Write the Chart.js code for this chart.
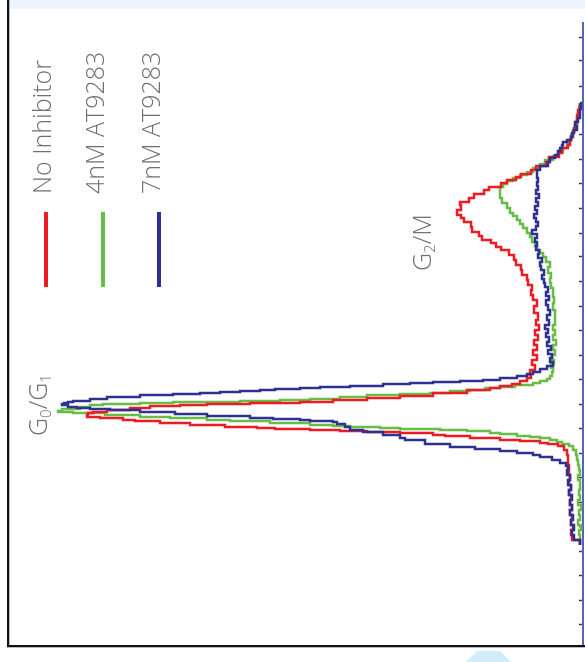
<!DOCTYPE html>
<html>
<head>
<meta charset="utf-8">
<script src="https://cdn.jsdelivr.net/npm/chart.js@4/dist/chart.umd.min.js"></script>
<style>
  html,body{margin:0;padding:0;background:#fff;}
  body{width:585px;height:662px;position:relative;overflow:hidden;font-family:"Open Sans",sans-serif;}
  #band{position:absolute;left:9px;top:0;width:576px;height:9px;background:#eef4fc;}
  #frameL{position:absolute;left:7px;top:0;width:2px;height:647px;background:#111;box-shadow:1px 0 0 #bbb;}
  #frameB{position:absolute;left:7px;top:645px;width:578px;height:2px;background:#111;box-shadow:0 1px 0 #bbb;}
  #deco{position:absolute;left:466px;top:651px;width:45px;height:11px;background:#d3ecfa;clip-path:polygon(25% 0,75% 0,100% 100%,0 100%);}
  #wrap{position:absolute;left:0;top:22px;width:585px;height:623px;}
  .rt{position:absolute;transform-origin:left top;transform:rotate(-90deg);white-space:nowrap;
      font-family:"Open Sans",sans-serif;font-weight:300;font-size:25px;line-height:25px;color:#707070;}
  .rt sub{font-size:15px;vertical-align:-4px;line-height:0;}
  .mk{position:absolute;width:4px;height:75px;top:212px;}
</style>
</head>
<body>
<div id="band"></div>
<div id="wrap"><canvas id="c" width="585" height="623"></canvas></div>
<div id="frameL"></div>
<div id="frameB"></div>
<div id="deco"></div>

<div class="rt" style="left:29px;top:194px;">No Inhibitor</div>
<div class="rt" style="left:82px;top:194px;">4nM AT9283</div>
<div class="rt" style="left:138px;top:194px;">7nM AT9283</div>
<div class="mk" style="left:44px;background:#ed1c24;"></div>
<div class="mk" style="left:101px;background:#67bd45;"></div>
<div class="mk" style="left:157px;background:#2e3192;"></div>

<div class="rt" style="left:25px;top:436px;">G<sub>0</sub>/G<sub>1</sub></div>
<div class="rt" style="left:409px;top:271px;">G<sub>2</sub>/M</div>

<script>
// DNA content (channel units) and cell counts
const seriesNames = ["No Inhibitor", "4nM AT9283", "7nM AT9283"];

const redDNA = [100,105,110,115,120,125,130,135,140,145,150,155,160,165,170,175,180,185,190,195,
  199,201,202,204,205,207,209,210,212,213,214,215,216,217,218,220,222,224,225,227,228,
  230,232,233,235,237,239,240,241,242,243,245,247,249,252,255,257,259,261,264,267,
  270,275,280,285,290,295,300,305,310,315,320,325,332,339,
  345,350,355,360,365,370,375,380,385,390,395,
  398,402,405,409,413,418,423,427,430,435,440,443,447,451,455,458,462,465,468,471,475,479,483,488,492,497,500,505,508,513,517,523,530,535,542];
const redCount = [3,11,12,10,12,11,13,11,13,12,14,12,14,13,14,14,15,15,16,19,
  25,35,43,63,83,113,138,150,183,216,243,273,308,326,358,393,423,448,460,483,496,
  495,490,476,453,433,403,376,333,283,250,216,183,150,116,93,83,71,63,56,52,
  53,48,51,46,50,46,49,45,48,44,47,45,49,46,
  50,52,51,55,56,61,62,67,69,74,82,
  87,92,101,104,111,112,119,122,126,122,123,114,109,99,94,82,76,67,62,52,47,37,34,24,21,15,13,12,10,9,7,6,5,3,3];

const greenDNA = [100,105,110,115,120,125,130,135,140,145,150,155,160,165,170,175,180,185,190,195,
  199,201,203,205,207,208,209,211,212,214,215,216,217,218,219,220,222,224,225,227,228,230,232,233,
  234,236,238,240,241,242,243,244,245,246,248,250,251,252,254,255,257,258,260,262,
  264,266,269,273,277,281,285,290,295,300,305,310,315,320,328,335,342,348,352,357,
  362,367,372,378,383,388,392,395,399,403,408,412,417,421,425,429,432,437,442,447,
  452,455,458,461,464,467,470,473,477,481,485,489,493,497,501,505,510,515,520,527,533,539,542];
const greenCount = [3,3,4,2,5,3,4,2,5,3,4,3,3,5,3,4,5,6,7,10,
  14,21,26,33,43,53,66,83,93,116,143,183,203,233,250,273,313,353,376,413,443,478,510,525,
  521,503,493,480,443,410,343,303,273,243,216,183,153,133,113,98,83,68,50,43,
  36,33,31,30,32,29,31,28,30,27,30,28,30,28,28,30,29,30,30,32,
  33,32,35,33,37,40,43,46,48,51,53,56,60,63,66,70,73,76,81,83,
  83,83,80,76,70,63,56,50,43,38,30,25,20,16,14,12,10,8,6,5,4,3,3];

const blueDNA = [100,105,110,115,120,125,130,135,140,145,150,155,160,165,170,175,
  179,182,185,188,190,192,194,196,198,201,205,207,210,213,215,218,221,223,224,225,226,227,229,231,233,235,236,237,238,240,
  241,242,243,244,246,248,250,251,252,253,254,255,256,257,258,259,261,262,263,264,
  265,267,269,271,273,276,279,283,287,291,295,299,303,308,312,316,320,325,330,335,
  340,345,349,353,358,362,366,370,375,379,383,387,391,395,399,403,407,411,415,419,
  423,427,431,435,439,443,447,451,455,459,463,467,471,475,479,483,487,490,494,497,
  500,503,505,508,512,515,519,523,527,532,537,542];
const blueCount = [3,9,11,9,12,10,13,11,13,11,14,12,15,13,16,15,
  17,23,31,43,50,66,83,108,133,158,178,183,200,220,233,238,246,250,273,283,310,333,376,408,443,473,493,506,515,521,
  519,515,510,493,476,443,410,383,363,343,323,308,283,263,233,200,173,150,123,100,
  83,66,56,50,43,36,30,33,31,35,32,36,34,37,35,38,34,36,33,35,
  37,34,37,35,38,39,41,39,42,43,41,45,44,47,46,48,46,51,47,45,
  47,49,46,48,45,47,44,47,45,46,45,46,46,43,35,33,28,25,23,21,
  20,16,12,11,9,6,8,5,3,3,2,3];

// DNA-axis tick positions (unlabelled tick marks)
const dnaTicks = [21,45,70,94,119,143,168,192,217,241,266,290,315,339,364,388,412,437,461,486,510,535,559,584,608];

const colors = ["#ed1c24", "#67bd45", "#2e3192"];

function pts(dna, cnt){
  const n = Math.min(dna.length, cnt.length);
  const out = [];
  for (let i = 0; i < n; i++) out.push({x: cnt[i], y: dna[i]});
  return out;
}

const sets = [[redDNA, redCount], [greenDNA, greenCount], [blueDNA, blueCount]];
const datasets = sets.map((s, i) => ({
  label: seriesNames[i],
  data: pts(s[0], s[1]),
  showLine: true,
  stepped: 'after',
  borderColor: colors[i],
  backgroundColor: colors[i],
  borderWidth: 2.5,
  pointRadius: 0,
  clip: false,
  order: i === 2 ? 0 : (i === 0 ? 1 : 2)
}));

new Chart(document.getElementById('c'), {
  type: 'scatter',
  data: { datasets },
  options: {
    responsive: false,
    animation: false,
    layout: { padding: { left: 0, right: 2, top: 0, bottom: 0 } },
    plugins: { legend: { display: false }, tooltip: { enabled: false } },
    scales: {
      x: { type: 'linear', reverse: true, min: 0, max: 583, display: false },
      y: {
        type: 'linear', position: 'right', min: 0, max: 623,
        afterBuildTicks: (s) => { s.ticks = dnaTicks.map(v => ({ value: v })); },
        afterFit: (s) => { s.width = 0; },
        ticks: { display: false },
        grid: { drawOnChartArea: false, drawTicks: true, tickLength: -4, tickColor: '#2e3a8c', tickWidth: 1.5 },
        border: { display: true, color: '#5566b8', width: 2 }
      }
    }
  }
});
</script>
</body>
</html>
